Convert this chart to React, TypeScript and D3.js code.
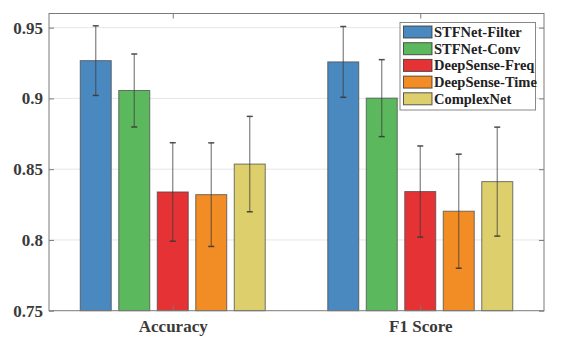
import { useRef, useEffect } from "react";
import * as d3 from "d3";

const categories = ["Accuracy", "F1 Score"];
const methods = ["STFNet-Filter", "STFNet-Conv", "DeepSense-Freq", "DeepSense-Time", "ComplexNet"];
const colors = ["#4a88c0", "#5cb85c", "#e43235", "#f28c24", "#ddcf6c"];
// mean values per method, [Accuracy, F1 Score]
const means = [
  [0.9267, 0.9258],
  [0.9056, 0.9002],
  [0.8339, 0.8342],
  [0.832, 0.8203],
  [0.8536, 0.8412],
];
// half length of error bars
const errs = [
  [0.0246, 0.025],
  [0.0258, 0.0272],
  [0.0348, 0.0322],
  [0.0366, 0.0403],
  [0.0337, 0.0385],
];
const yTicks = [0.75, 0.8, 0.85, 0.9, 0.95];

const FONT = '"Liberation Serif", "Times New Roman", serif';

const App = () => {
  const svgRef = useRef<SVGSVGElement>(null);

  useEffect(() => {
    const w = 561;
    const h = 342;
    const m = { left: 49, right: 17, top: 13.5, bottom: 31.3 };
    const svg = d3.select(svgRef.current).attr("width", w).attr("height", h);
    svg.selectAll("*").remove();

    const x = d3.scaleLinear().domain([0.5, 2.5]).range([m.left, w - m.right]);
    const y = d3.scaleLinear().domain([0.75, 0.96]).range([h - m.bottom, m.top]);
    const step = 38.5; // px between bar centres in a group
    const bw = 31;

    // grid
    svg
      .append("g")
      .selectAll("line")
      .data(yTicks.slice(1))
      .join("line")
      .attr("x1", x(0.5))
      .attr("x2", x(2.5))
      .attr("y1", (d) => y(d))
      .attr("y2", (d) => y(d))
      .attr("stroke", "#e6e6e6")
      .attr("stroke-width", 1);

    // bars
    methods.forEach((_, mi) => {
      const g = svg.append("g");
      g.selectAll("rect")
        .data(categories)
        .join("rect")
        .attr("x", (_, ci) => x(ci + 1) + (mi - 2) * step - bw / 2)
        .attr("y", (_, ci) => y(means[mi][ci]))
        .attr("width", bw)
        .attr("height", (_, ci) => y(0.75) - y(means[mi][ci]))
        .attr("fill", colors[mi])
        .attr("stroke", "#4a4a4a")
        .attr("stroke-opacity", 0.75)
        .attr("stroke-width", 1);
    });

    // error bars
    methods.forEach((_, mi) => {
      categories.forEach((_, ci) => {
        const cx = x(ci + 1) + (mi - 2) * step;
        const lo = y(means[mi][ci] - errs[mi][ci]);
        const hi = y(means[mi][ci] + errs[mi][ci]);
        const g = svg.append("g").attr("stroke", "#3a3a3a").attr("stroke-opacity", 0.65);
        g.append("line").attr("x1", cx).attr("x2", cx).attr("y1", lo).attr("y2", hi).attr("stroke-width", 1.2);
        [lo, hi].forEach((yy) =>
          g.append("line").attr("x1", cx - 3).attr("x2", cx + 3).attr("y1", yy).attr("y2", yy).attr("stroke-width", 1.5).attr("stroke-opacity", 0.9)
        );
      });
    });

    // axes box
    const axisColor = "#7a7a7a";
    svg
      .append("rect")
      .attr("x", x(0.5))
      .attr("y", y(0.96))
      .attr("width", x(2.5) - x(0.5))
      .attr("height", y(0.75) - y(0.96))
      .attr("fill", "none")
      .attr("stroke", axisColor)
      .attr("stroke-width", 1);

    const yAxisL = d3.axisLeft(y).tickValues(yTicks).tickSize(-5).tickFormat((d) => `${d}`);
    const gl = svg.append("g").attr("transform", `translate(${x(0.5)},0)`).call(yAxisL);
    const yAxisR = d3.axisRight(y).tickValues(yTicks).tickSize(-5).tickFormat(() => "");
    const gr = svg.append("g").attr("transform", `translate(${x(2.5)},0)`).call(yAxisR);
    const xAxisB = d3.axisBottom(x).tickValues([1, 2]).tickSize(-5).tickFormat((d) => categories[+d - 1]);
    const gb = svg.append("g").attr("transform", `translate(0,${y(0.75)})`).call(xAxisB);
    const xAxisT = d3.axisTop(x).tickValues([1, 2]).tickSize(-5).tickFormat(() => "");
    const gt = svg.append("g").attr("transform", `translate(0,${y(0.96)})`).call(xAxisT);
    [gl, gr, gb, gt].forEach((g) => {
      g.select(".domain").remove();
      g.attr("font-family", FONT).attr("font-size", 17).attr("font-weight", "bold");
      g.selectAll(".tick line").attr("stroke", axisColor);
    });
    gl.selectAll(".tick text").attr("x", -6).attr("fill", "#3a3a3a");
    gb.selectAll(".tick text").attr("y", 9).attr("fill", "#3a3a3a");

    // legend
    const lx = 400;
    const ly = 22.5;
    const lg = svg.append("g").attr("font-family", FONT).attr("font-weight", "bold").attr("font-size", 14.5);
    lg.append("rect")
      .attr("x", lx)
      .attr("y", ly)
      .attr("width", 135.5)
      .attr("height", 87.5)
      .attr("fill", "white")
      .attr("stroke", "#888")
      .attr("stroke-width", 1);
    methods.forEach((name, i) => {
      const ry = ly + 3.5 + i * 16.7;
      lg.append("rect")
        .attr("x", lx + 3.5)
        .attr("y", ry)
        .attr("width", 28.5)
        .attr("height", 12)
        .attr("fill", colors[i])
        .attr("stroke", "#333")
        .attr("stroke-opacity", 0.8);
      lg.append("text")
        .attr("x", lx + 34)
        .attr("y", ry + 6)
        .attr("dy", "0.35em")
        .attr("fill", "#222")
        .text(name);
    });
  }, []);

  return (
    <svg
      ref={svgRef}
      style={{ position: "absolute", left: 0, top: 0, fontFamily: FONT }}
    ></svg>
  );
};

export default App;
